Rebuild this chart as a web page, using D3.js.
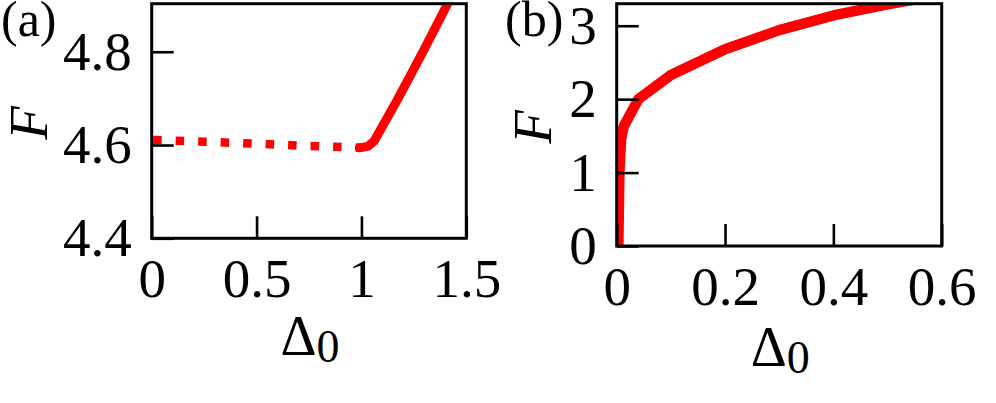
<!DOCTYPE html>
<html>
<head>
<meta charset="utf-8">
<script src="https://cdn.jsdelivr.net/npm/d3@7"></script>
<style>
  body { margin: 0; background: #fff; }
  svg { display: block; }
  text { font-family: "Liberation Serif", "Times New Roman", serif; fill: #000; }
</style>
</head>
<body>
<div id="chart"></div>
<script>
// panel (a)
var aDotX = [0, 0.25, 0.5, 0.75, 1.0];
var aDotF = [4.611, 4.607, 4.603, 4.598, 4.594];
var aSolidX = [0.99, 1.03, 1.06, 1.17, 1.29, 1.41, 1.45];
var aSolidF = [4.594, 4.597, 4.608, 4.696, 4.797, 4.902, 4.94];
var aXTicks = [0, 0.5, 1, 1.5];
var aYTicks = [4.4, 4.6, 4.8];

// panel (b)
var bX = [0.003, 0.005, 0.008, 0.013, 0.04, 0.1, 0.2, 0.3, 0.4, 0.5, 0.6];
var bF = [0, 1.0, 1.45, 1.63, 2.0, 2.33, 2.68, 2.94, 3.14, 3.29, 3.42];
var bXTicks = [0, 0.2, 0.4, 0.6];
var bYTicks = [0, 1, 2, 3];

var width = 996, height = 403;
var fs = 55;

var svg = d3.select("#chart").append("svg")
  .attr("width", width)
  .attr("height", height);

svg.append("rect").attr("width", width).attr("height", height).attr("fill", "#fff");

function zip(xs, ys) { return xs.map(function(d, i) { return [d, ys[i]]; }); }

function panel(o) {
  var x = d3.scaleLinear().domain(o.xDomain).range([o.left, o.right]);
  var y = d3.scaleLinear().domain(o.yDomain).range([o.bottom, o.top]);
  var g = svg.append("g");

  var clipId = "clip-" + o.name;
  g.append("clipPath").attr("id", clipId)
    .append("rect")
    .attr("x", o.left).attr("y", o.top)
    .attr("width", o.right - o.left).attr("height", o.bottom - o.top);

  var line = d3.line().x(function(d) { return x(d[0]); }).y(function(d) { return y(d[1]); });

  var plot = g.append("g").attr("clip-path", "url(#" + clipId + ")");
  o.series.forEach(function(s) {
    plot.append("path")
      .datum(s.data)
      .attr("d", line)
      .attr("fill", "none")
      .attr("stroke", "#ff0000")
      .attr("stroke-width", s.width)
      .attr("stroke-linejoin", "round")
      .attr("stroke-linecap", s.dash ? "butt" : "round")
      .attr("stroke-dasharray", s.dash || null)
      .attr("stroke-dashoffset", s.dashOffset || null);
  });

  var xAxis = g.append("g")
    .attr("transform", "translate(0," + o.bottom + ")")
    .call(d3.axisBottom(x).tickValues(o.xTicks).tickSize(-22).tickPadding(20).tickFormat(d3.format("")));
  var yAxis = g.append("g")
    .attr("transform", "translate(" + o.left + ",0)")
    .call(d3.axisLeft(y).tickValues(o.yTicks).tickSize(-22).tickPadding(20).tickFormat(d3.format("")));

  [xAxis, yAxis].forEach(function(a) {
    a.select(".domain").remove();
    a.selectAll(".tick line").attr("stroke", "#000").attr("stroke-width", 2.6);
    a.selectAll(".tick text")
      .attr("font-family", null)
      .style("font-size", fs + "px")
      .attr("fill", "#000");
  });

  g.append("rect")
    .attr("x", o.left).attr("y", o.top)
    .attr("width", o.right - o.left).attr("height", o.bottom - o.top)
    .attr("fill", "none").attr("stroke", "#000").attr("stroke-width", 3);

  var xl = g.append("text")
    .attr("x", (o.left + o.right) / 2 + 1)
    .attr("y", o.bottom + o.xLabelDy)
    .attr("text-anchor", "middle")
    .style("font-size", "56px");
  xl.append("tspan").text("\u0394");
  xl.append("tspan").attr("dy", 7).style("font-size", "46px").text("0");

  g.append("text")
    .attr("transform", "translate(" + o.yLabelX + "," + ((o.top + o.bottom) / 2 + 2) + ") rotate(-90)")
    .attr("text-anchor", "middle")
    .style("font-size", "55px")
    .style("font-style", "italic")
    .text("F");

  g.append("text")
    .attr("x", o.tagX).attr("y", 36)
    .style("font-size", "50px")
    .text(o.tag);
}

panel({
  name: "a", tag: "(a)", tagX: 1,
  left: 151.7, right: 466.3, top: 3.7, bottom: 238.3,
  xDomain: [0, 1.5], yDomain: [4.4, 4.903],
  xTicks: aXTicks, yTicks: aYTicks,
  xLabelDy: 117, yLabelX: 47,
  series: [
    { data: zip(aDotX, aDotF), width: 8.5, dash: "8.5,14", dashOffset: 21 },
    { data: zip(aSolidX, aSolidF), width: 9 }
  ]
});

panel({
  name: "b", tag: "(b)", tagX: 505,
  left: 616.7, right: 941.7, top: 3.7, bottom: 246,
  xDomain: [0, 0.6], yDomain: [0, 3.3],
  xTicks: bXTicks, yTicks: bYTicks,
  xLabelDy: 120, yLabelX: 551,
  series: [
    { data: zip(bX, bF), width: 10.5 }
  ]
});
</script>
</body>
</html>
